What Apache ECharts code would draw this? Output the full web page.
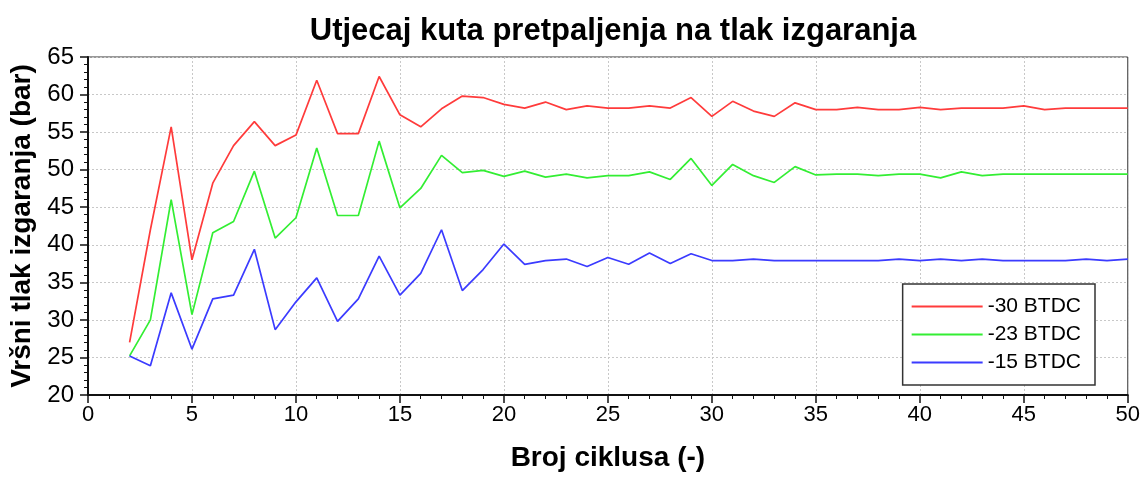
<!DOCTYPE html>
<html>
<head>
<meta charset="utf-8">
<title>Utjecaj kuta pretpaljenja na tlak izgaranja</title>
<script src="https://cdn.jsdelivr.net/npm/echarts@6/dist/echarts.min.js"></script>
<style>
  html, body { margin: 0; padding: 0; background: #ffffff; }
  #chart { width: 1143px; height: 477px; }
</style>
</head>
<body>
<div id="chart"></div>
<script>
// Cycle numbers (x axis)
const cycles = [2, 3, 4, 5, 6, 7, 8, 9, 10, 11, 12, 13, 14, 15, 16, 17, 18, 19, 20, 21, 22, 23, 24, 25, 26,
  27, 28, 29, 30, 31, 32, 33, 34, 35, 36, 37, 38, 39, 40, 41, 42, 43, 44, 45, 46, 47, 48, 49, 50];

// Peak combustion pressure (bar) per ignition advance
const p30 = [27.0, 42.0, 55.7, 38.0, 48.2, 53.2, 56.4, 53.2, 54.6, 61.9, 54.8, 54.8, 62.4, 57.3, 55.7, 58.1,
  59.8, 59.6, 58.7, 58.2, 59.0, 58.0, 58.5, 58.2, 58.2, 58.5, 58.2, 59.6, 57.1, 59.1, 57.8, 57.1, 58.9,
  58.0, 58.0, 58.3, 58.0, 58.0, 58.3, 58.0, 58.2, 58.2, 58.2, 58.5, 58.0, 58.2, 58.2, 58.2, 58.2];
const p23 = [25.2, 30.0, 46.0, 30.7, 41.6, 43.1, 49.8, 40.9, 43.6, 52.9, 43.9, 43.9, 53.8, 44.9, 47.5, 51.9,
  49.6, 49.9, 49.1, 49.8, 49.0, 49.4, 48.9, 49.2, 49.2, 49.7, 48.7, 51.5, 47.9, 50.7, 49.2, 48.3, 50.4,
  49.3, 49.4, 49.4, 49.2, 49.4, 49.4, 48.9, 49.7, 49.2, 49.4, 49.4, 49.4, 49.4, 49.4, 49.4, 49.4];
const p15 = [25.2, 23.9, 33.6, 26.1, 32.8, 33.3, 39.4, 28.7, 32.4, 35.6, 29.8, 32.8, 38.5, 33.3, 36.2, 42.0,
  33.9, 36.7, 40.1, 37.4, 37.9, 38.1, 37.1, 38.3, 37.4, 38.9, 37.5, 38.8, 37.9, 37.9, 38.1, 37.9, 37.9,
  37.9, 37.9, 37.9, 37.9, 38.1, 37.9, 38.1, 37.9, 38.1, 37.9, 37.9, 37.9, 37.9, 38.1, 37.9, 38.1];

const seriesNames = ['-30 BTDC', '-23 BTDC', '-15 BTDC'];
const seriesColors = ['#ff3b3b', '#33ee33', '#3b3bff'];

const font = '"Liberation Sans", Arial, sans-serif';
const pair = (ys) => cycles.map((c, i) => [c, ys[i]]);

const chart = echarts.init(document.getElementById('chart'), null, { renderer: 'canvas' });

const axisCommon = {
  axisLine: { show: true, onZero: false, lineStyle: { color: '#111', width: 2 } },
  axisTick: { show: true, inside: false, length: 8, lineStyle: { color: '#111', width: 1.5 } },
  minorTick: { show: true, splitNumber: 5, length: 4, lineStyle: { color: '#111', width: 1 } },
  splitLine: { show: true, lineStyle: { color: '#c8c8c8', type: [2, 2], width: 1 } },
  nameTextStyle: { color: '#000', fontFamily: font, fontSize: 28, fontWeight: 'bold' }
};

chart.setOption({
  animation: false,
  backgroundColor: '#ffffff',
  color: seriesColors,
  title: {
    text: 'Utjecaj kuta pretpaljenja na tlak izgaranja',
    left: 608, top: 11, textAlign: 'center',
    textStyle: { fontFamily: font, fontSize: 31, fontWeight: 'bold', color: '#000' }
  },
  grid: { left: 88, right: 13, top: 57, bottom: 78, show: true, borderColor: '#333', borderWidth: 1 },
  legend: {
    data: seriesNames,
    orient: 'vertical',
    right: 48, bottom: 92,
    backgroundColor: '#fff',
    borderColor: '#333', borderWidth: 1.5,
    padding: [12, 14, 12, 9],
    itemGap: 7,
    icon: 'rect',
    itemWidth: 71, itemHeight: 2,
    textStyle: { fontFamily: font, fontSize: 21, color: '#000', padding: [0, 0, 0, 0] }
  },
  xAxis: Object.assign({}, axisCommon, {
    type: 'value', min: 0, max: 50, interval: 5,
    name: 'Broj ciklusa (-)', nameLocation: 'middle', nameGap: 49,
    axisLabel: { color: '#000', fontFamily: font, fontSize: 22, margin: 9 }
  }),
  yAxis: Object.assign({}, axisCommon, {
    type: 'value', min: 20, max: 65, interval: 5,
    name: 'Vršni tlak izgaranja (bar)', nameLocation: 'middle', nameGap: 45,
    axisLabel: { color: '#000', fontFamily: font, fontSize: 24, margin: 14 }
  }),
  series: [p30, p23, p15].map((ys, i) => ({
    name: seriesNames[i],
    type: 'line',
    data: pair(ys),
    symbol: 'none',
    lineStyle: { width: 1.7, color: seriesColors[i] },
    itemStyle: { color: seriesColors[i] }
  }))
});
</script>
</body>
</html>
